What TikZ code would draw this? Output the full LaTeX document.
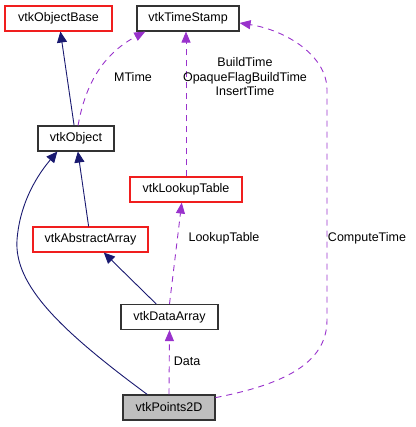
\documentclass[tikz,border=0pt]{standalone}
\usepackage{fontspec}
\setmainfont{Liberation Sans}
\usetikzlibrary{arrows.meta, positioning, calc}
\definecolor{edgenavy}{RGB}{25,25,112}
\definecolor{edgepurple}{RGB}{153,50,204}
\definecolor{boxred}{RGB}{240,30,30}
\definecolor{boxgray}{RGB}{191,191,191}
\newcommand{\doxyfont}{\fontsize{12.5}{14.5}\selectfont}
\tikzset{
  cls/.style={
    rectangle, minimum height=25pt, inner xsep=0pt,
    draw=black!80, line width=1.1pt, fill=white, text centered,
    font=\doxyfont
  },
  redcls/.style={cls, draw=boxred},
  inherit/.style={-{Triangle[length=11pt,width=10pt]}, line width=0.9pt, color=edgenavy},
  usage/.style={-{Triangle[length=11pt,width=9pt]}, line width=0.9pt,
    dash pattern=on 6pt off 5pt, color=edgepurple},
  edgelabel/.style={font=\doxyfont, align=center, inner sep=0pt}
}
\begin{document}
\begin{tikzpicture}[x=1pt, y=-1pt]
  \useasboundingbox (0,0) rectangle (415,427);

  \node[redcls, minimum width=107pt] (objbase) at (58.5,18.5) {vtkObjectBase};
  \node[cls, minimum width=102pt]    (stamp)   at (188,18.5)  {vtkTimeStamp};
  \node[cls, minimum width=76pt]     (obj)     at (76,138.5)  {vtkObject};
  \node[redcls, minimum width=112pt] (lut)     at (186,189.5) {vtkLookupTable};
  \node[redcls, minimum width=115pt] (absarr)  at (90.5,239.5) {vtkAbstractArray};
  \node[cls, minimum width=97pt]     (darr)    at (169.5,317) {vtkDataArray};
  \node[cls, fill=boxgray, minimum width=92pt] (pts) at (169,407.5) {vtkPoints2D};

  % inheritance
  \draw[inherit] (obj) -- (objbase);
  \draw[inherit] (absarr) -- (obj);
  \draw[inherit] (darr) -- (absarr);
  \draw[inherit] (pts.149) .. controls (60,330) and (14,285) .. (17,240)
                           .. controls (20,200) and (40,172) .. (obj.215);

  % members
  \draw[usage] (obj.81) to[out=80, in=208] (stamp.197);
  \node[edgelabel] (mtimelbl) at (133,77) {MTime};

  \draw[usage] (lut.north) -- (lut.north |- stamp.south);
  \node[edgelabel] (timelbl) at (245,77) {BuildTime\\OpaqueFlagBuildTime\\InsertTime};

  \draw[usage] (darr.north) -- (lut.252);
  \node[edgelabel] (lutlbl) at (224,238) {LookupTable};

  \draw[usage] (pts.north) -- (darr.south);
  \node[edgelabel] (datalbl) at (187,361) {Data};

  \draw[usage] (pts.12) .. controls (280,385) and (327,365) .. (327,320)
               -- (327,90) .. controls (327,55) and (285,30) .. (stamp.355);
  \node[edgelabel] (ctimelbl) at (367,238) {ComputeTime};
\end{tikzpicture}
\end{document}
